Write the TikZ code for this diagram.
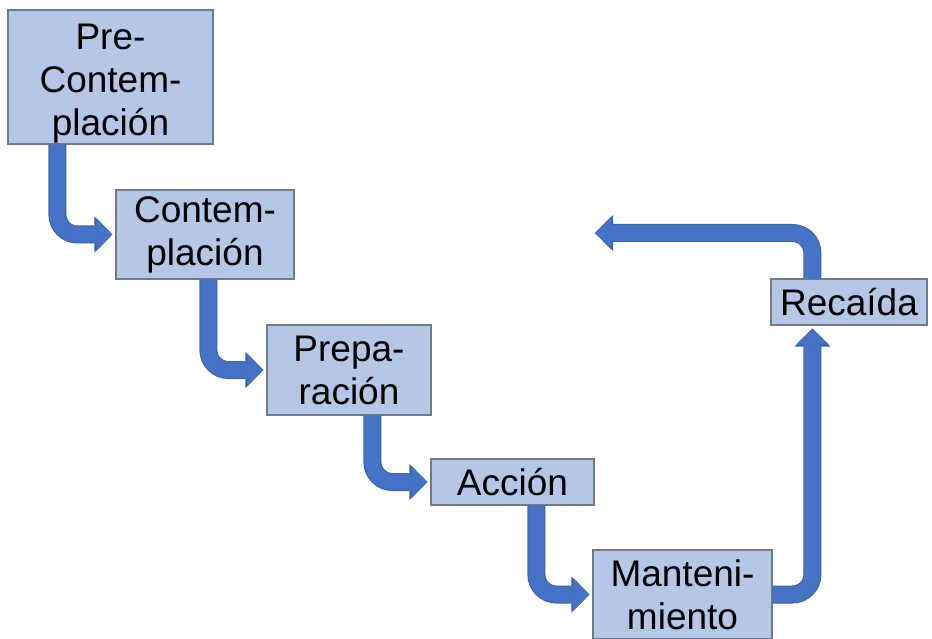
\documentclass[tikz,border=0pt]{standalone}
\usepackage{fontspec}
\setmainfont{Liberation Sans}
\usetikzlibrary{arrows.meta,calc}
\definecolor{boxfill}{HTML}{B4C7E7}
\definecolor{boxline}{HTML}{6F7B8C}
\definecolor{arrowblue}{HTML}{4472C4}
\definecolor{arrowedge}{HTML}{3A62A8}
\begin{document}
\begin{tikzpicture}[x=1pt,y=-1pt,
  stage/.style={draw=boxline, line width=1.2pt, fill=boxfill, inner sep=0pt,
    align=center, font=\fontsize{37}{43}\selectfont},
  flow/.style={draw=arrowblue, line width=16pt, rounded corners=20pt,
    -{Triangle[width=33pt,length=16pt,line width=0pt]},
    preaction={draw=arrowedge, line width=18pt,
      -{Triangle[width=36pt,length=18pt,line width=0pt]}}}]
\useasboundingbox (0,0) rectangle (932,639);
\node[stage, minimum width=205pt, minimum height=134pt] (b1) at (110.5,77) {\rule{0pt}{38pt}Pre-\\Contem-\\plación};
\node[stage, minimum width=178pt, minimum height=89pt] (b2) at (205,234.5) {Contem-\\plación};
\node[stage, minimum width=164pt, minimum height=90pt] (b3) at (349,370) {Prepa-\\ración};
\node[stage, minimum width=163pt, minimum height=46pt] (b4) at (512.5,482) {Acción};
\node[stage, minimum width=179pt, minimum height=89pt] (b5) at (682.5,594.5) {Manteni-\\miento};
\node[stage, minimum width=156pt, minimum height=46pt] (b6) at (849,302) {Recaída};
\coordinate (back) at (595,233);
\draw[flow, shorten >=3pt] ([xshift=50pt]b1.south west) |- (b2.west);
\draw[flow, shorten >=3pt] ([xshift=93pt]b2.south west) |- (b3.west);
\draw[flow, shorten >=3pt] ([xshift=106pt]b3.south west) |- (b4.west);
\draw[flow, shorten >=3pt] ([xshift=106pt]b4.south west) |- (b5.west);
\draw[flow, shorten >=3pt] (b5.east) -| ([xshift=42pt]b6.south west);
\draw[flow] ([xshift=42pt]b6.north west) |- (back);
\end{tikzpicture}
\end{document}
